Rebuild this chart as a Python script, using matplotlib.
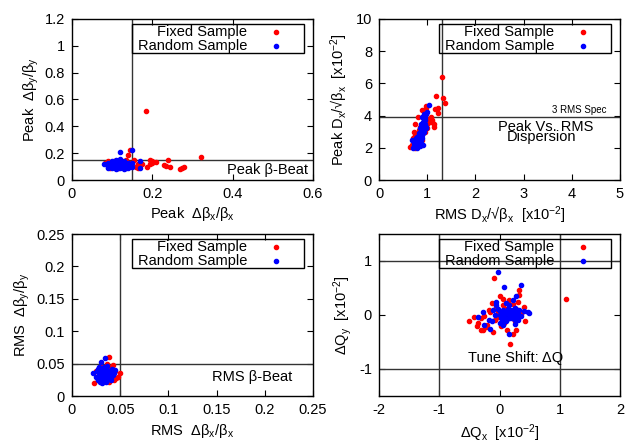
import numpy as np
import matplotlib
matplotlib.use("Agg")
import matplotlib.pyplot as plt
from matplotlib.patches import Rectangle

plt.rcParams['font.family'] = ['Liberation Sans', 'DejaVu Sans']
plt.rcParams['font.size'] = 10.5
plt.rcParams['mathtext.fontset'] = 'custom'
plt.rcParams['mathtext.rm'] = 'Liberation Sans'
plt.rcParams['mathtext.it'] = 'Liberation Sans:italic'
plt.rcParams['mathtext.default'] = 'regular'

# peak beta-beat (x, y)
peak_fixed = [(0.185, 0.515), (0.32, 0.17), (0.27, 0.085), (0.275, 0.09), (0.28, 0.10),
              (0.24, 0.15), (0.245, 0.10), (0.23, 0.11), (0.235, 0.105), (0.20, 0.14),
              (0.21, 0.135), (0.194, 0.15), (0.195, 0.12), (0.186, 0.10), (0.165, 0.09),
              (0.165, 0.12), (0.15, 0.12), (0.144, 0.22), (0.14, 0.19), (0.155, 0.15),
              (0.082, 0.127), (0.09, 0.14), (0.10, 0.11), (0.11, 0.13), (0.12, 0.10),
              (0.135, 0.15), (0.13, 0.13), (0.095, 0.09), (0.14, 0.10), (0.125, 0.14),
              (0.105, 0.145), (0.115, 0.09), (0.16, 0.10), (0.145, 0.13), (0.175, 0.12),
              (0.20, 0.13)]
peak_random = [(0.08, 0.12), (0.09, 0.10), (0.09, 0.13), (0.10, 0.09), (0.10, 0.11),
               (0.10, 0.13), (0.11, 0.08), (0.11, 0.10), (0.11, 0.12), (0.11, 0.14),
               (0.12, 0.09), (0.12, 0.11), (0.12, 0.13), (0.12, 0.15), (0.12, 0.21),
               (0.13, 0.08), (0.13, 0.10), (0.13, 0.12), (0.13, 0.14), (0.14, 0.09),
               (0.14, 0.11), (0.14, 0.13), (0.15, 0.10), (0.15, 0.225), (0.10, 0.12),
               (0.105, 0.10), (0.115, 0.11), (0.125, 0.12), (0.135, 0.11), (0.095, 0.11),
               (0.12, 0.10), (0.15, 0.13), (0.17, 0.09), (0.17, 0.14), (0.11, 0.15),
               (0.12, 0.16), (0.13, 0.09), (0.10, 0.14), (0.14, 0.12), (0.125, 0.13),
               (0.115, 0.09), (0.105, 0.12), (0.135, 0.09), (0.145, 0.11), (0.09, 0.09)]

# peak vs rms dispersion (x, y), units 1e-2
disp_fixed = [(1.30, 6.4), (1.18, 5.2), (1.33, 5.1), (1.37, 4.8), (1.23, 4.47),
              (1.17, 4.4), (1.22, 4.18), (0.97, 4.6), (0.97, 4.5), (0.90, 4.35),
              (1.08, 3.9), (1.10, 3.7), (1.15, 3.5), (1.15, 3.3), (1.05, 3.6),
              (1.09, 3.6), (0.81, 3.93), (0.75, 3.5), (0.85, 3.3), (0.72, 3.0),
              (0.75, 2.8), (0.64, 2.07), (0.70, 2.6), (0.68, 2.2), (0.80, 2.1),
              (0.72, 2.4), (0.90, 2.5), (0.85, 2.8), (0.95, 3.0), (1.00, 3.5),
              (0.92, 3.2), (0.78, 2.3), (0.88, 2.2), (0.80, 2.6), (1.02, 3.8),
              (0.90, 2.9), (0.75, 2.0), (0.70, 2.3), (1.00, 3.2), (0.82, 3.1)]
disp_random = [(0.70, 2.0), (0.72, 2.1), (0.75, 2.2), (0.78, 2.0), (0.80, 2.3),
               (0.74, 2.4), (0.82, 2.2), (0.85, 2.4), (0.78, 2.5), (0.82, 2.6),
               (0.88, 2.5), (0.85, 2.7), (0.90, 2.8), (0.84, 2.9), (0.88, 3.0),
               (0.92, 3.1), (0.86, 3.2), (0.90, 3.3), (0.94, 3.4), (0.92, 3.6),
               (0.96, 3.7), (0.95, 3.9), (0.98, 4.1), (1.00, 4.2), (1.04, 4.65),
               (0.93, 3.8), (0.88, 2.3), (0.80, 2.1), (0.76, 2.6), (0.72, 2.3),
               (0.90, 2.6), (0.94, 3.0), (0.97, 3.2), (0.87, 3.5), (0.83, 2.8),
               (0.92, 2.9), (0.95, 3.5), (0.89, 3.9), (0.79, 2.7), (0.86, 2.1),
               (0.91, 2.2), (0.68, 2.5), (0.97, 3.3), (0.93, 4.1)]

# rms beta-beat (x, y)
rms_fixed = [(0.023, 0.020), (0.025, 0.038), (0.026, 0.030), (0.030, 0.045), (0.038, 0.060),
             (0.040, 0.045), (0.042, 0.040), (0.045, 0.038), (0.050, 0.035), (0.048, 0.030),
             (0.044, 0.025), (0.038, 0.022), (0.035, 0.025), (0.028, 0.035), (0.032, 0.040),
             (0.041, 0.032), (0.036, 0.050), (0.046, 0.028), (0.027, 0.025), (0.033, 0.030),
             (0.039, 0.035), (0.043, 0.048), (0.031, 0.022), (0.034, 0.043)]
rms_random = [(0.022, 0.035), (0.034, 0.058), (0.030, 0.052), (0.028, 0.045), (0.025, 0.030),
              (0.027, 0.025), (0.029, 0.022), (0.030, 0.028), (0.031, 0.033), (0.032, 0.038),
              (0.033, 0.025), (0.034, 0.030), (0.035, 0.035), (0.036, 0.040), (0.037, 0.028),
              (0.038, 0.033), (0.039, 0.038), (0.040, 0.030), (0.041, 0.036), (0.042, 0.042),
              (0.043, 0.033), (0.045, 0.040), (0.030, 0.040), (0.033, 0.045), (0.035, 0.022),
              (0.031, 0.020), (0.028, 0.032), (0.026, 0.038), (0.036, 0.047), (0.038, 0.026),
              (0.034, 0.041), (0.032, 0.029), (0.044, 0.036), (0.029, 0.036), (0.033, 0.035),
              (0.037, 0.037), (0.040, 0.025), (0.027, 0.042)]

# tune shift (dQx, dQy), units 1e-2
tune_fixed = [(-0.09, 0.68), (1.10, 0.30), (0.33, 0.46), (0.32, 0.37), (0.00, 0.35),
              (0.17, -0.53), (0.23, -0.35), (-0.50, -0.12), (-0.43, -0.03), (0.42, -0.11),
              (-0.31, -0.28), (-0.27, -0.28), (-0.10, -0.31), (0.12, -0.28), (0.27, -0.28),
              (-0.35, -0.15), (-0.30, -0.05), (-0.25, -0.02), (-0.20, -0.18), (-0.15, 0.05),
              (-0.12, 0.22), (-0.05, 0.15), (0.05, 0.30), (0.15, 0.28), (0.22, 0.20),
              (0.28, 0.12), (0.30, 0.25), (0.10, 0.12), (-0.02, 0.08), (0.20, -0.05),
              (0.25, -0.12), (0.35, 0.02), (-0.08, -0.10), (0.02, -0.20), (-0.18, 0.10),
              (0.08, -0.15), (0.18, 0.06), (-0.22, -0.22), (-0.38, -0.20), (0.40, 0.15),
              (0.12, 0.00), (-0.05, -0.05), (0.30, -0.05), (0.06, 0.18)]
tune_random = [(-0.02, 0.80), (0.08, 0.51), (0.35, 0.56), (-0.36, -0.03), (0.47, 0.06),
               (0.49, 0.03), (0.05, -0.19), (0.25, -0.16), (-0.25, -0.18), (-0.18, -0.10),
               (-0.28, 0.05), (-0.10, 0.10), (-0.05, 0.25), (0.00, 0.00), (0.05, 0.02),
               (0.10, 0.05), (0.15, 0.00), (0.20, 0.03), (0.25, 0.05), (0.30, 0.02),
               (0.02, -0.05), (0.08, -0.03), (0.12, -0.08), (0.18, -0.06), (0.22, -0.02),
               (0.28, -0.04), (0.00, 0.08), (0.06, 0.10), (0.14, 0.12), (0.20, 0.10),
               (0.26, 0.13), (0.32, 0.10), (0.35, -0.02), (0.40, 0.08), (-0.08, 0.00),
               (-0.12, -0.12), (0.00, -0.15), (0.10, -0.12), (0.16, 0.18), (0.22, 0.28),
               (0.10, 0.22), (-0.02, 0.12), (0.04, 0.05), (0.12, 0.03), (0.18, 0.08),
               (0.24, -0.08), (0.30, -0.10), (-0.15, -0.25), (0.15, -0.35), (-0.06, 0.18),
               (0.28, 0.35), (0.06, -0.10)]

series_names = ['Fixed Sample', 'Random Sample']
colors = ['#ff0000', '#0000ff']

fig = plt.figure(figsize=(6.28, 4.43), dpi=100)
w, h = 241 / 628, 161 / 443
ax1 = fig.add_axes([72 / 628, 263 / 443, w, h])
ax2 = fig.add_axes([379 / 628, 263 / 443, w, h])
ax3 = fig.add_axes([72 / 628, 47 / 443, w, 162 / 443])
ax4 = fig.add_axes([379 / 628, 47 / 443, w, 162 / 443])


def style(ax):
    ax.tick_params(direction='in', top=True, right=True, length=4, width=0.8,
                   pad=5, labelsize=10.5)
    for s in ax.spines.values():
        s.set_linewidth(1.0)
    ax.xaxis.set_major_formatter(plt.FormatStrFormatter('%g'))
    ax.yaxis.set_major_formatter(plt.FormatStrFormatter('%g'))


def legend(ax):
    ax.add_patch(Rectangle((0.249, 0.789), 0.714, 0.18, transform=ax.transAxes,
                           fill=False, edgecolor='black', lw=1.0, zorder=5))
    for name, c, yy in zip(series_names, colors, [0.919, 0.832]):
        ax.text(0.726, yy, name, transform=ax.transAxes, ha='right', va='center',
                fontsize=10.5, zorder=6)
        ax.plot([0.846], [yy], 'o', ms=3, color=c, transform=ax.transAxes,
                clip_on=False, zorder=6)


def scatter(ax, fixed, random):
    for data, c in zip([fixed, random], colors):
        arr = np.array(data)
        ax.plot(arr[:, 0], arr[:, 1], 'o', ms=3, color=c, mec=c, zorder=3)


line_kw = dict(color='#333333', lw=1.0, zorder=2)

# panel 1
scatter(ax1, peak_fixed, peak_random)
ax1.axvline(0.15, **line_kw)
ax1.axhline(0.15, **line_kw)
ax1.set_xlim(0, 0.6)
ax1.set_ylim(0, 1.2)
ax1.set_xticks([0, 0.2, 0.4, 0.6])
ax1.set_yticks([0, 0.2, 0.4, 0.6, 0.8, 1, 1.2])
ax1.set_xlabel('Peak  Δβ$_x$/β$_x$', labelpad=3)
ax1.set_ylabel('Peak  Δβ$_y$/β$_y$', labelpad=3)
ax1.text(0.979, 0.062, 'Peak β-Beat', transform=ax1.transAxes, ha='right', va='center')
style(ax1)
legend(ax1)

# panel 2
scatter(ax2, disp_fixed, disp_random)
ax2.axvline(1.3, **line_kw)
ax2.axhline(3.9, **line_kw)
ax2.set_xlim(0, 5)
ax2.set_ylim(0, 10)
ax2.set_xticks([0, 1, 2, 3, 4, 5])
ax2.set_yticks([0, 2, 4, 6, 8, 10])
ax2.set_xlabel('RMS D$_x$/√β$_x$  [x10$^{-2}$]', labelpad=3)
ax2.set_ylabel('Peak D$_x$/√β$_x$  [x10$^{-2}$]', labelpad=4)
ax2.text(0.942, 0.435, '3 RMS Spec', transform=ax2.transAxes, ha='right', va='center',
         fontsize=7)
ax2.text(0.69, 0.33, 'Peak Vs. RMS', transform=ax2.transAxes, ha='center', va='center')
ax2.text(0.675, 0.267, 'Dispersion', transform=ax2.transAxes, ha='center', va='center')
style(ax2)
legend(ax2)

# panel 3
scatter(ax3, rms_fixed, rms_random)
ax3.axvline(0.05, **line_kw)
ax3.axhline(0.05, **line_kw)
ax3.set_xlim(0, 0.25)
ax3.set_ylim(0, 0.25)
ax3.set_xticks([0, 0.05, 0.1, 0.15, 0.2, 0.25])
ax3.set_yticks([0, 0.05, 0.1, 0.15, 0.2, 0.25])
ax3.set_xlabel('RMS  Δβ$_x$/β$_x$', labelpad=4)
ax3.set_ylabel('RMS  Δβ$_y$/β$_y$', labelpad=3)
ax3.text(0.913, 0.117, 'RMS β-Beat', transform=ax3.transAxes, ha='right', va='center')
style(ax3)
legend(ax3)

# panel 4
scatter(ax4, tune_fixed, tune_random)
for v in [-1, 1]:
    ax4.axvline(v, **line_kw)
    ax4.axhline(v, **line_kw)
ax4.set_xlim(-2, 2)
ax4.set_ylim(-1.5, 1.5)
ax4.set_xticks([-2, -1, 0, 1, 2])
ax4.set_yticks([-1, 0, 1])
ax4.set_xlabel('ΔQ$_x$  [x10$^{-2}$]', labelpad=4)
ax4.set_ylabel('ΔQ$_y$  [x10$^{-2}$]', labelpad=4)
ax4.text(0.566, 0.235, 'Tune Shift: ΔQ', transform=ax4.transAxes, ha='center', va='center')
style(ax4)
legend(ax4)

fig.savefig('out.png', dpi=100)
